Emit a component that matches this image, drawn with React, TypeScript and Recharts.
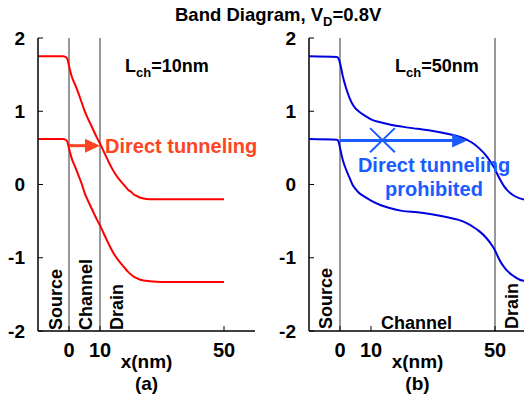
import { LineChart, Line, XAxis, YAxis, ReferenceLine } from 'recharts';

// ---- data (x in nm, energy in eV) ----
const xLeft = [-10, -2, -1, -0.5, 0, 1, 2, 3, 4, 5, 6, 7, 8, 9, 10, 11, 12, 13, 14, 15, 16, 17, 18, 19, 20, 21, 22, 23, 24, 26, 30, 50];
const ecLeft = [1.75, 1.75, 1.74, 1.71, 1.62, 1.46, 1.36, 1.25, 1.13, 1.01, 0.91, 0.82, 0.73, 0.64, 0.56, 0.47, 0.38, 0.29, 0.21, 0.14, 0.08, 0.03, -0.02, -0.07, -0.1, -0.14, -0.16, -0.18, -0.19, -0.2, -0.2, -0.2];
const evLeft = [0.62, 0.62, 0.61, 0.58, 0.49, 0.34, 0.24, 0.13, 0.02, -0.11, -0.21, -0.3, -0.39, -0.48, -0.56, -0.65, -0.74, -0.83, -0.91, -0.98, -1.04, -1.09, -1.14, -1.19, -1.23, -1.26, -1.28, -1.3, -1.31, -1.32, -1.33, -1.33];

const xRight = [-10, -1, -0.5, 0, 1, 2, 3, 4, 5, 6, 8, 10, 13, 16, 20, 25, 30, 35, 38, 41, 43, 45, 47, 49, 50, 51, 52, 53, 54, 55, 56, 58, 60];
const ecRight = [1.75, 1.74, 1.72, 1.66, 1.46, 1.31, 1.19, 1.1, 1.04, 1.0, 0.94, 0.89, 0.85, 0.82, 0.79, 0.76, 0.73, 0.69, 0.66, 0.61, 0.56, 0.49, 0.4, 0.28, 0.21, 0.12, 0.04, -0.03, -0.08, -0.12, -0.15, -0.19, -0.21];
const evRight = [0.62, 0.61, 0.59, 0.5, 0.32, 0.2, 0.1, 0.0, -0.06, -0.11, -0.17, -0.22, -0.28, -0.32, -0.36, -0.38, -0.41, -0.45, -0.48, -0.53, -0.58, -0.64, -0.72, -0.83, -0.9, -0.99, -1.07, -1.13, -1.18, -1.22, -1.25, -1.3, -1.32];

const xTicks = [0, 10, 50];
const yTicks = [-2, -1, 0, 1, 2];
const leftWalls = [0, 10];
const rightWalls = [0, 50];

const font = '"Liberation Sans", Arial, sans-serif';
const RED = '#ff0000';
const BLUE = '#0000e0';
const ORANGE = '#ff4422';
const ARROW_BLUE = '#1a5cff';

const leftData = xLeft.map((x, i) => ({ x, ec: ecLeft[i], ev: evLeft[i] }));
const rightData = xRight.map((x, i) => ({ x, ec: ecRight[i], ev: evRight[i] }));

const tickStyle = { fill: '#000', fontSize: 20, fontWeight: 'bold', fontFamily: font };
const axisLine = { stroke: '#000', strokeWidth: 1.5 };

const arrowShape = (color: string) => (props: any) => {
  const { x1, y1, x2, y2 } = props;
  return (
    <g>
      <line x1={x1} y1={y1} x2={x2 - 10} y2={y2} stroke={color} strokeWidth={3} />
      <polygon points={`${x2},${y2} ${x2 - 15},${y2 - 7} ${x2 - 15},${y2 + 7}`} fill={color} />
    </g>
  );
};

function Panel({ data, color, yWidth, width, walls, children }: any) {
  return (
    <LineChart width={width} height={398} data={data} margin={{ top: 38, right: width === 262 ? 7 : 0, bottom: 0, left: 0 }}>
      <XAxis dataKey="x" type="number" domain={[-10, 60]} ticks={xTicks} allowDataOverflow
        height={67} tickSize={-5} tickMargin={17} tick={tickStyle} axisLine={axisLine} tickLine={{ stroke: '#000' }} />
      <XAxis xAxisId="top" orientation="top" dataKey="x" type="number" domain={[-10, 60]} ticks={xTicks} allowDataOverflow
        height={0} tickSize={-5} tick={false} axisLine={axisLine} tickLine={{ stroke: '#000' }} />
      <YAxis type="number" domain={[-2, 2]} ticks={yTicks} width={yWidth} tickSize={-5} tickMargin={18}
        tick={{ ...tickStyle, fontSize: 19 }} axisLine={axisLine} tickLine={{ stroke: '#000' }} />
      <YAxis yAxisId="r" orientation="right" type="number" domain={[-2, 2]} ticks={yTicks} width={0} tickSize={-5}
        tick={false} axisLine={axisLine} tickLine={{ stroke: '#000' }} />
      {walls.map((w: number) => (
        <ReferenceLine key={w} x={w} stroke="#333" strokeWidth={1} />
      ))}
      <Line dataKey="ec" type="monotone" stroke={color} strokeWidth={2} dot={false} isAnimationActive={false} />
      <Line dataKey="ev" type="monotone" stroke={color} strokeWidth={2} dot={false} isAnimationActive={false} />
      {children}
    </LineChart>
  );
}

export default function App() {
  const bold = { fontFamily: font, fontWeight: 'bold' as const };
  return (
    <div style={{ position: 'absolute', left: 0, top: 0, width: 524, height: 398, overflow: 'hidden', background: '#fff' }}>
      <div style={{ position: 'absolute', left: 0, top: 0 }}>
        <Panel data={leftData} color={RED} yWidth={38} width={262} walls={leftWalls}>
          <ReferenceLine segment={[{ x: 0, y: 0.53 }, { x: 10, y: 0.53 }]} shape={arrowShape(ORANGE)} />
        </Panel>
      </div>
      <div style={{ position: 'absolute', left: 262, top: 0 }}>
        <Panel data={rightData} color={BLUE} yWidth={47} width={264} walls={rightWalls}>
          <ReferenceLine segment={[{ x: 0, y: 0.6 }, { x: 41, y: 0.6 }]} shape={arrowShape(ARROW_BLUE)} />
          <ReferenceLine segment={[{ x: 9.7, y: 0.77 }, { x: 17.7, y: 0.44 }]} stroke={ARROW_BLUE} strokeWidth={2} />
          <ReferenceLine segment={[{ x: 9.7, y: 0.44 }, { x: 17.7, y: 0.77 }]} stroke={ARROW_BLUE} strokeWidth={2} />
        </Panel>
      </div>
      <svg width={524} height={398} style={{ position: 'absolute', left: 0, top: 0, pointerEvents: 'none' }}>
        <text x={175} y={21} fontSize={18.5} {...bold}>
          Band Diagram, V<tspan fontSize={13} dy={5}>D</tspan><tspan dy={-5}>=0.8V</tspan>
        </text>
        <text x={125} y={72} fontSize={18} {...bold}>
          L<tspan fontSize={13} dy={5}>ch</tspan><tspan dy={-5}>=10nm</tspan>
        </text>
        <text x={395} y={72} fontSize={18} {...bold}>
          L<tspan fontSize={13} dy={5}>ch</tspan><tspan dy={-5}>=50nm</tspan>
        </text>
        <text x={105} y={153} fontSize={20} fill={ORANGE} {...bold}>Direct tunneling</text>
        <text x={434} y={172} fontSize={20} fill={ARROW_BLUE} textAnchor="middle" {...bold}>Direct tunneling</text>
        <text x={434} y={196} fontSize={20} fill={ARROW_BLUE} textAnchor="middle" {...bold}>prohibited</text>

        <text transform="translate(62,330) rotate(-90)" fontSize={18} {...bold}>Source</text>
        <text transform="translate(92,330) rotate(-90)" fontSize={18} {...bold}>Channel</text>
        <text transform="translate(123,330) rotate(-90)" fontSize={18} {...bold}>Drain</text>
        <text transform="translate(332,329) rotate(-90)" fontSize={18} {...bold}>Source</text>
        <text x={416.5} y={329} fontSize={18} textAnchor="middle" {...bold}>Channel</text>
        <text transform="translate(518,329) rotate(-90)" fontSize={18} {...bold}>Drain</text>

        <text x={146.5} y={368} fontSize={19} textAnchor="middle" {...bold}>x(nm)</text>
        <text x={146.5} y={390} fontSize={19} textAnchor="middle" {...bold}>(a)</text>
        <text x={417.5} y={368} fontSize={19} textAnchor="middle" {...bold}>x(nm)</text>
        <text x={417.5} y={390} fontSize={19} textAnchor="middle" {...bold}>(b)</text>
      </svg>
    </div>
  );
}
